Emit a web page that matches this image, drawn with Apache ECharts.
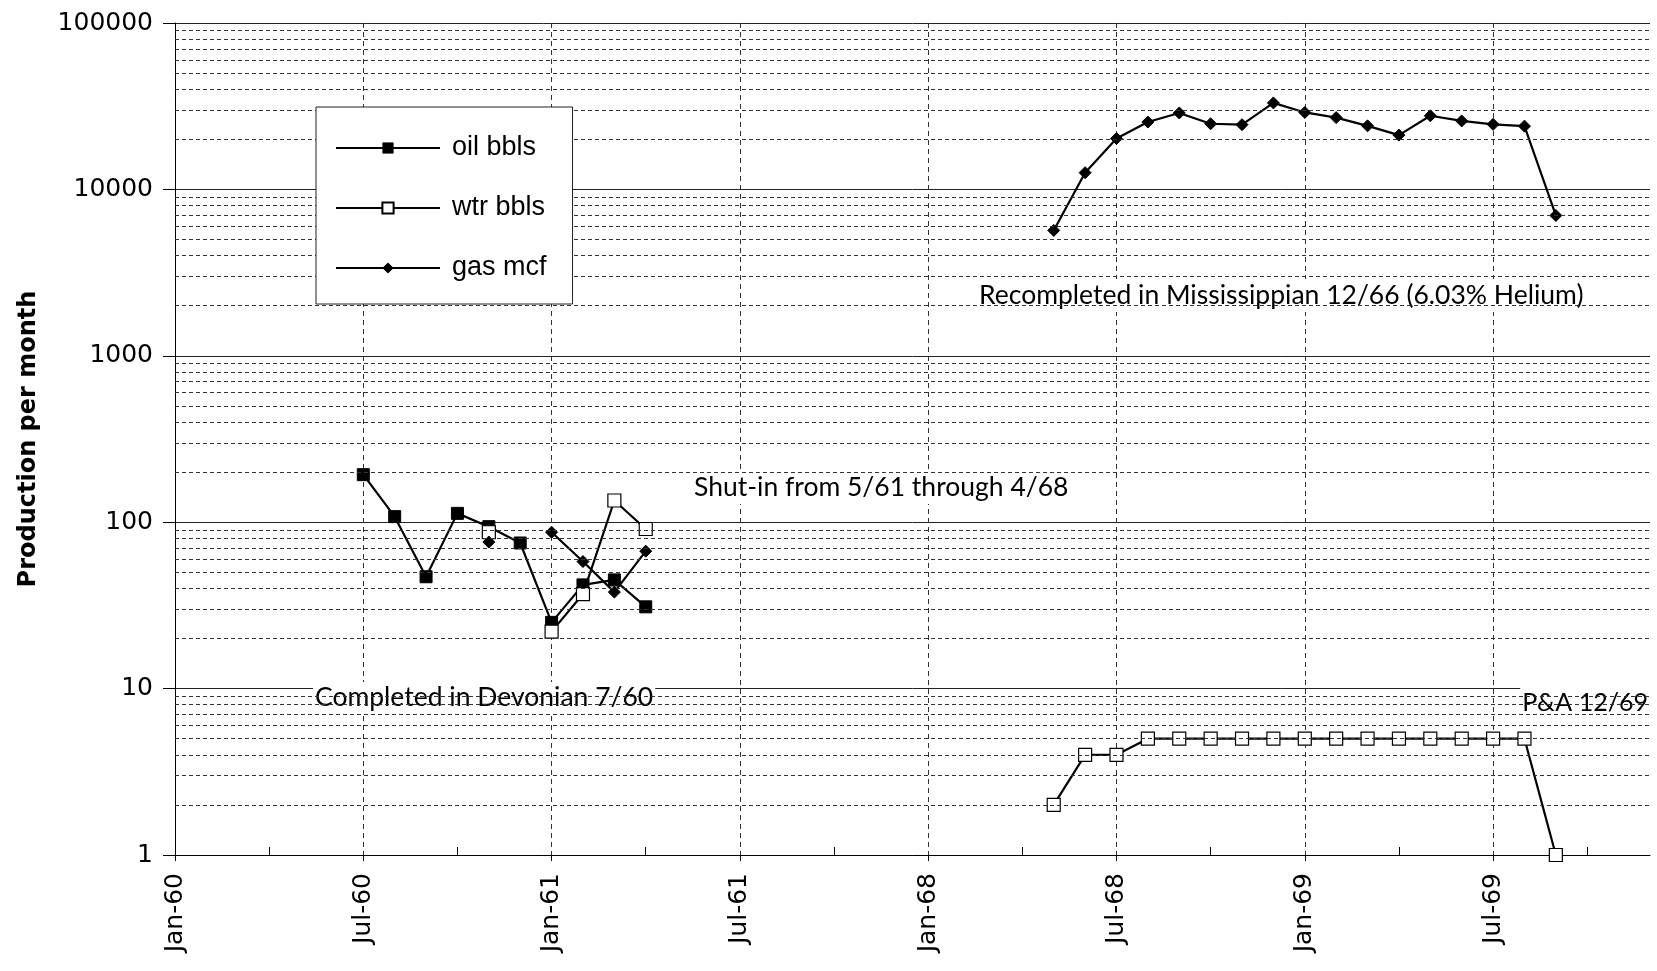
<!DOCTYPE html>
<html>
<head>
<meta charset="utf-8">
<script src="https://cdn.jsdelivr.net/npm/echarts@6/dist/echarts.min.js"></script>
<style>
  html, body { margin: 0; padding: 0; background: #fff; }
  #chart { width: 1657px; height: 971px; }
</style>
</head>
<body>
<div id="chart"></div>
<script>
// Month categories (axis jumps from Dec-61 to Jan-68)
const categories = [
  'Jan-60','Feb-60','Mar-60','Apr-60','May-60','Jun-60','Jul-60','Aug-60','Sep-60','Oct-60','Nov-60','Dec-60',
  'Jan-61','Feb-61','Mar-61','Apr-61','May-61','Jun-61','Jul-61','Aug-61','Sep-61','Oct-61','Nov-61','Dec-61',
  'Jan-68','Feb-68','Mar-68','Apr-68','May-68','Jun-68','Jul-68','Aug-68','Sep-68','Oct-68','Nov-68','Dec-68',
  'Jan-69','Feb-69','Mar-69','Apr-69','May-69','Jun-69','Jul-69','Aug-69','Sep-69','Oct-69','Nov-69','Dec-69'
];

const oilBbls = [
  null,null,null,null,null,null, 193,108,47,113,94,75,
  25,42,45,31,null,null,null,null,null,null,null,null,
  null,null,null,null,null,null,null,null,null,null,null,null,
  null,null,null,null,null,null,null,null,null,null,null,null
];

const wtrBbls = [
  null,null,null,null,null,null,null,null,null,null,87,null,
  22,37,135,91,null,null,null,null,null,null,null,null,
  null,null,null,null,2,4,4,5,5,5,5,5,
  5,5,5,5,5,5,5,5,1,null,null,null
];

const gasMcf = [
  null,null,null,null,null,null,null,null,null,null,76,null,
  87,58,38,67,null,null,null,null,null,null,null,null,
  null,null,null,null,5670,12600,20200,25400,28800,24800,24500,33100,
  29000,27000,24100,21200,27700,25800,24600,24000,6970,null,null,null
];

const yTickLabels = ['1','10','100','1000','10000','100000'];

const annotations = [
  'Recompleted in Mississippian 12/66 (6.03% Helium)',
  'Shut-in from 5/61 through 4/68',
  'Completed in Devonian 7/60',
  'P&A 12/69'
];

// minor (dashed) horizontal gridline levels: 2..9 in each decade
const minorLevels = [];
for (let d = 1; d <= 10000; d *= 10) {
  for (let k = 2; k <= 9; k++) minorLevels.push({ yAxis: k * d });
}

const chart = echarts.init(document.getElementById('chart'), null, { renderer: 'canvas' });

const annoFont = '26.5px Lato';
const axisFont = 'DejaVu Sans';

const option = {
  backgroundColor: '#fff',
  animation: false,
  grid: { left: 175, right: 7, top: 23, bottom: 116, containLabel: false },
  legend: {
    data: ['oil bbls', 'wtr bbls', 'gas mcf'],
    orient: 'vertical',
    left: 316,
    top: 107,
    itemWidth: 104,
    itemHeight: 14,
    itemGap: 30,
    padding: [26, 26, 21, 19],
    backgroundColor: '#fff',
    borderColor: '#222',
    borderWidth: 1,
    borderRadius: 0,
    textStyle: { fontSize: 27, color: '#000', fontFamily: 'Liberation Sans', lineHeight: 30, padding: [0, 0, 0, 7] },
    z: 10
  },
  xAxis: [
    {
      type: 'category',
      data: categories,
      boundaryGap: false,
      axisLine: { show: true, lineStyle: { color: '#000', width: 1 } },
      axisTick: { show: true, interval: 5, length: 6, lineStyle: { color: '#000' } },
      axisLabel: {
        interval: 5, rotate: 90, fontSize: 25, color: '#000',
        fontFamily: axisFont, margin: 18
      },
      splitLine: { show: true, interval: 5, lineStyle: { color: '#333', width: 1, type: [5, 4] } }
    },
    {
      type: 'category',
      data: categories,
      boundaryGap: false,
      position: 'bottom',
      axisLine: { show: false },
      axisTick: {
        show: true, inside: true, length: 8,
        interval: function (idx) { return idx % 6 === 3; },
        lineStyle: { color: '#000' }
      },
      axisLabel: { show: false },
      splitLine: { show: false }
    }
  ],
  yAxis: {
    type: 'log',
    logBase: 10,
    min: 1,
    max: 100000,
    name: 'Production per month',
    nameLocation: 'middle',
    nameRotate: 90,
    nameGap: 134,
    nameTextStyle: { fontSize: 24, fontWeight: 'bold', color: '#000', fontFamily: axisFont },
    axisLine: { show: true, lineStyle: { color: '#000', width: 1 } },
    axisTick: { show: true, length: 12, lineStyle: { color: '#000' } },
    axisLabel: {
      fontSize: 25, color: '#000', fontFamily: axisFont, margin: 22,
      formatter: function (v) {
        const e = Math.round(Math.log10(v));
        return yTickLabels[e] !== undefined ? yTickLabels[e] : String(Math.round(v));
      }
    },
    splitLine: { show: true, lineStyle: { color: '#222', width: 1, type: 'solid' } }
  },
  series: [
    {
      name: 'minor',
      type: 'line',
      data: [],
      silent: true,
      z: 1,
      markLine: {
        silent: true,
        symbol: ['none', 'none'],
        label: { show: false },
        lineStyle: { color: '#333', width: 1, type: [4, 3] },
        data: minorLevels,
        animation: false
      }
    },
    {
      name: 'oil bbls',
      type: 'line',
      data: oilBbls,
      connectNulls: false,
      showAllSymbol: true,
      symbol: 'rect',
      symbolSize: 12,
      lineStyle: { color: '#000', width: 2.2 },
      itemStyle: { color: '#000', borderColor: '#000' },
      z: 3
    },
    {
      name: 'wtr bbls',
      type: 'line',
      data: wtrBbls,
      connectNulls: false,
      showAllSymbol: true,
      symbol: 'rect',
      symbolSize: 13,
      lineStyle: { color: '#000', width: 2.2 },
      itemStyle: { color: '#fff', borderColor: '#000', borderWidth: 1.2 },
      z: 3
    },
    {
      name: 'gas mcf',
      type: 'line',
      data: gasMcf,
      connectNulls: false,
      showAllSymbol: true,
      symbol: 'diamond',
      symbolSize: 12,
      lineStyle: { color: '#000', width: 2.2 },
      itemStyle: { color: '#000', borderColor: '#000' },
      z: 3
    }
  ],
  graphic: [
    { type: 'text', left: 977, top: 279, z: 5,
      style: { text: annotations[0], font: annoFont, fill: '#000', backgroundColor: '#fff', padding: [3, 2, 3, 2] } },
    { type: 'text', left: 692, top: 471, z: 5,
      style: { text: annotations[1], font: annoFont, fill: '#000', backgroundColor: '#fff', padding: [3, 2, 3, 2] } },
    { type: 'text', left: 313, top: 682, z: 5,
      style: { text: annotations[2], font: annoFont, fill: '#000', backgroundColor: '#fff', padding: [2, 2, 2, 2] } },
    { type: 'text', right: 7, top: 688, z: 5,
      style: { text: annotations[3], font: '25px Lato', fill: '#000', backgroundColor: '#fff', padding: [2, 2, 2, 2] } }
  ]
};

chart.setOption(option);
</script>
</body>
</html>
